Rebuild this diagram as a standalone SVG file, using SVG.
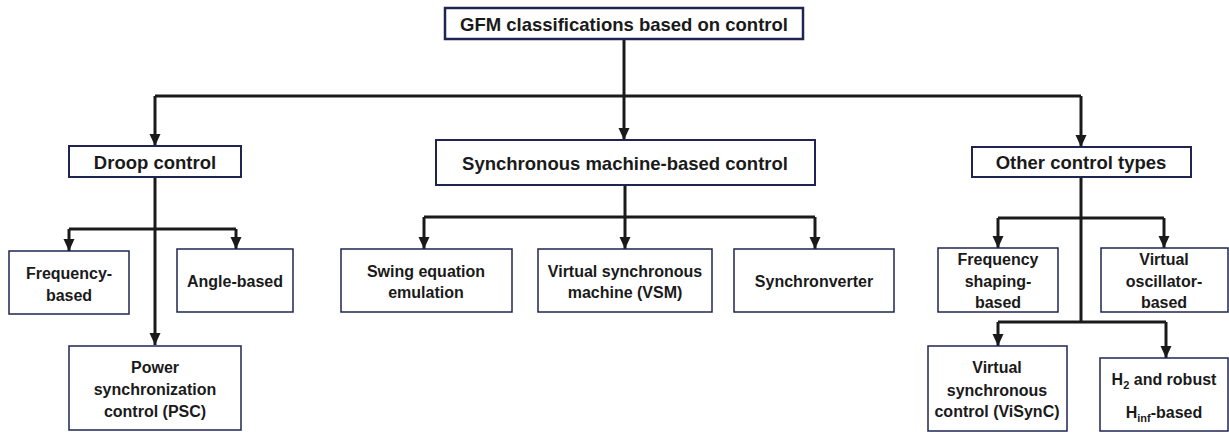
<svg xmlns="http://www.w3.org/2000/svg" width="1229" height="432" viewBox="0 0 1229 432">
<style>
.box{fill:#fff;stroke:#1f2550;stroke-width:1.5}
.hbox{fill:#fff;stroke:#1f2550;stroke-width:2}
.rbox{fill:#fff;stroke:#1f2550;stroke-width:2.5}
.t{font-family:"Liberation Sans",Arial,sans-serif;font-weight:bold;font-size:16px;fill:#1a1a1a;text-anchor:middle}
.h{font-size:18.5px}
.c{fill:none;stroke:#1a1a1a;stroke-width:3}
.a{marker-end:url(#arr)}
</style>
<defs>
<marker id="arr" markerUnits="userSpaceOnUse" markerWidth="12" markerHeight="12" refX="12" refY="6" orient="auto">
<path d="M0,0.5 L12,6 L0,11.5 z" fill="#1a1a1a"/>
</marker>
</defs>
<g id="connectors">
<path class="c" d="M624,39 V96"/>
<path class="c a" d="M624,96 V140"/>
<path class="c" d="M155,96 H1081"/>
<path class="c a" d="M155,96 V146"/>
<path class="c a" d="M1081,96 V147"/>
<path class="c a" d="M155,177 V345"/>
<path class="c" d="M69,229 H236"/>
<path class="c a" d="M69,229 V251"/>
<path class="c a" d="M236,229 V249"/>
<path class="c" d="M625,185 V217"/>
<path class="c a" d="M625,217 V249"/>
<path class="c" d="M424,217 H815"/>
<path class="c a" d="M424,217 V249"/>
<path class="c a" d="M815,217 V249"/>
<path class="c" d="M1081,177 V322"/>
<path class="c" d="M998,218 H1164"/>
<path class="c a" d="M998,218 V248"/>
<path class="c a" d="M1164,218 V248"/>
<path class="c" d="M998,322 H1166"/>
<path class="c a" d="M998,322 V346"/>
<path class="c a" d="M1166,322 V358"/>
</g>
<g id="root">
<rect class="rbox" x="445" y="8" width="358" height="31"/>
<text class="t h" x="624" y="31">GFM classifications based on control</text>
</g>
<g id="droop">
<rect class="hbox" x="69" y="146" width="172" height="31"/>
<text class="t h" x="155" y="169">Droop control</text>
</g>
<g id="sync">
<rect class="hbox" x="436" y="140" width="379" height="45"/>
<text class="t h" x="625" y="170">Synchronous machine-based control</text>
</g>
<g id="other">
<rect class="hbox" x="972" y="147" width="219" height="30"/>
<text class="t h" x="1081" y="169">Other control types</text>
</g>
<g id="freq">
<rect class="box" x="9" y="251" width="120" height="63"/>
<text class="t" x="69" y="279">Frequency-</text>
<text class="t" x="69" y="301">based</text>
</g>
<g id="angle">
<rect class="box" x="177" y="249" width="116" height="63"/>
<text class="t" x="235" y="287">Angle-based</text>
</g>
<g id="psc">
<rect class="box" x="69" y="346" width="172" height="84"/>
<text class="t" x="155" y="373">Power</text>
<text class="t" x="155" y="395">synchronization</text>
<text class="t" x="155" y="417">control (PSC)</text>
</g>
<g id="swing">
<rect class="box" x="341" y="249" width="171" height="63"/>
<text class="t" x="426" y="277">Swing equation</text>
<text class="t" x="426" y="298">emulation</text>
</g>
<g id="vsm">
<rect class="box" x="538" y="249" width="174" height="63"/>
<text class="t" x="625" y="277">Virtual synchronous</text>
<text class="t" x="625" y="298">machine (VSM)</text>
</g>
<g id="synchronverter">
<rect class="box" x="734" y="249" width="160" height="63"/>
<text class="t" x="814" y="287">Synchronverter</text>
</g>
<g id="freqshaping">
<rect class="box" x="938" y="248" width="120" height="64"/>
<text class="t" x="998" y="265">Frequency</text>
<text class="t" x="998" y="287">shaping-</text>
<text class="t" x="998" y="308">based</text>
</g>
<g id="vosc">
<rect class="box" x="1101" y="248" width="127" height="64"/>
<text class="t" x="1164" y="265">Virtual</text>
<text class="t" x="1164" y="287">oscillator-</text>
<text class="t" x="1164" y="308">based</text>
</g>
<g id="visync">
<rect class="box" x="928" y="346" width="139" height="85"/>
<text class="t" x="997" y="373">Virtual</text>
<text class="t" x="997" y="396">synchronous</text>
<text class="t" x="997" y="417">control (ViSynC)</text>
</g>
<g id="h2">
<rect class="box" x="1100" y="358" width="128" height="73"/>
<text class="t" x="1164" y="385">H<tspan font-size="11" dy="4">2</tspan><tspan dy="-4"> and robust</tspan></text>
<text class="t" x="1164" y="418">H<tspan font-size="11" dy="4">inf</tspan><tspan dy="-4">-based</tspan></text>
</g>
</svg>
